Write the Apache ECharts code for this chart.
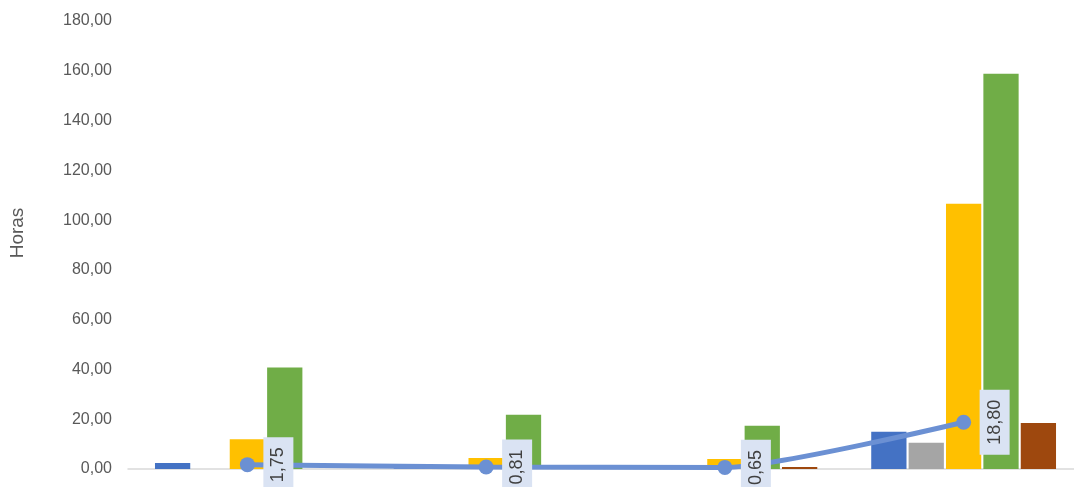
<!DOCTYPE html>
<html>
<head>
<meta charset="utf-8">
<script src="https://cdn.jsdelivr.net/npm/echarts@6/dist/echarts.min.js"></script>
<style>
html,body{margin:0;padding:0;background:#fff;overflow:hidden;}
#c{width:1083px;height:487px;}
</style>
</head>
<body>
<div id="c"></div>
<script>
const categories = ['Grupo 1', 'Grupo 2', 'Grupo 3', 'Grupo 4'];
const serieAzul = [2.4, 0.3, 0.5, 15.0];
const serieGris = [0, 0, 0, 10.5];
const serieAmarilla = [12.0, 4.4, 4.0, 106.6];
const serieVerde = [40.8, 21.8, 17.4, 158.8];
const serieMarron = [0, 0, 0.8, 18.5];
const serieLinea = [1.75, 0.81, 0.65, 18.80];
const yTicks = {min: 0, max: 180, interval: 20};

const fmt = v => Number(v).toFixed(2).replace('.', ',');
const font = '"Liberation Sans", Arial, sans-serif';

function bar(name, data, color) {
  return {
    name, type: 'bar', data,
    barGap: '6%', barCategoryGap: '22.6%',
    itemStyle: {color},
    z: 2
  };
}

const chart = echarts.init(document.getElementById('c'), null, {renderer: 'canvas'});
chart.setOption({
  animation: false,
  textStyle: {fontFamily: font},
  grid: {left: 128, right: 0, top: 21, bottom: 18, containLabel: false},
  xAxis: {
    type: 'category', data: categories,
    axisLine: {show: true, lineStyle: {color: '#d9d9d9', width: 1.5}},
    axisTick: {show: false},
    axisLabel: {show: false}
  },
  yAxis: {
    type: 'value', min: yTicks.min, max: yTicks.max, interval: yTicks.interval,
    name: 'Horas', nameLocation: 'middle', nameGap: 101, nameRotate: 90,
    nameTextStyle: {color: '#595959', fontSize: 19, fontFamily: font, padding: [0, 0, 0, 24]},
    axisLine: {show: false}, axisTick: {show: false},
    splitLine: {show: false},
    axisLabel: {color: '#595959', fontSize: 16, margin: 16, formatter: fmt, fontFamily: font}
  },
  series: [
    bar('Serie 1', serieAzul, '#4472c4'),
    bar('Serie 2', serieGris, '#a5a5a5'),
    bar('Serie 3', serieAmarilla, '#ffc000'),
    bar('Serie 4', serieVerde, '#70ad47'),
    bar('Serie 5', serieMarron, '#9e480e'),
    {
      name: 'Promedio', type: 'line', data: serieLinea,
      smooth: 0.2, z: 5,
      symbol: 'circle', symbolSize: 15,
      lineStyle: {color: '#6b90d3', width: 5},
      itemStyle: {color: '#6b90d3'},
      label: {
        show: true, position: 'inside', rotate: 90, offset: [0, 31],
        formatter: p => fmt(p.value),
        color: '#404040', fontSize: 18, fontFamily: font,
        backgroundColor: '#dae3f3', padding: [6, 10, 6, 10]
      }
    }
  ]
});
</script>
</body>
</html>
